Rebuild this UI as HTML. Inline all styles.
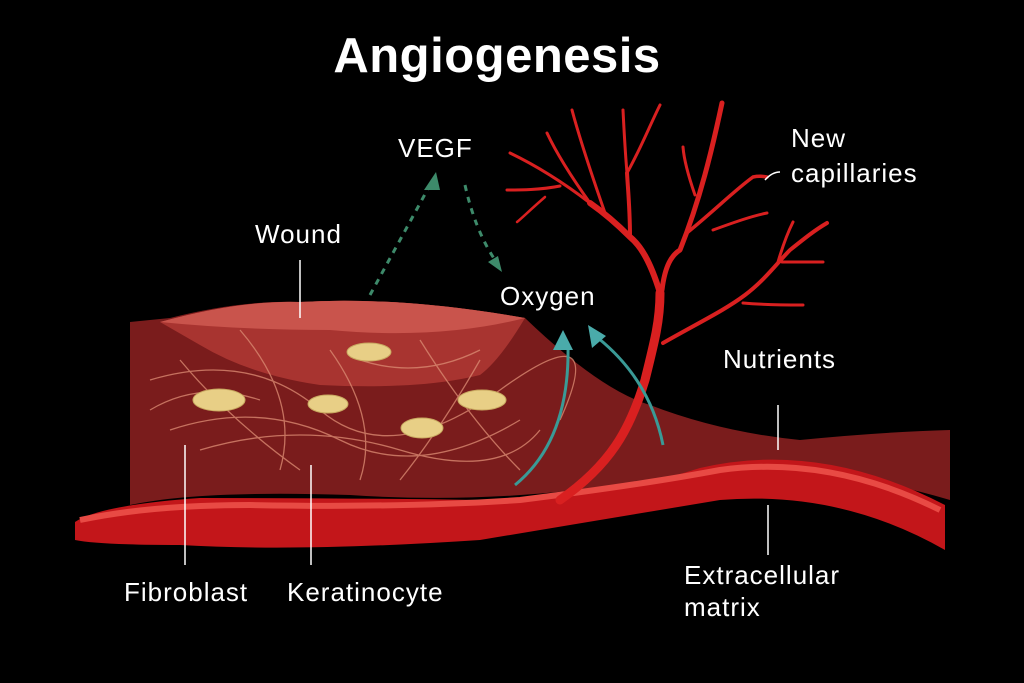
<!DOCTYPE html>
<html><head><meta charset="utf-8"><style>
html,body{margin:0;padding:0;background:#000;}
svg{display:block}
text{font-family:"Liberation Sans",sans-serif;fill:#fff}
</style></head><body>
<svg width="1024" height="683" viewBox="0 0 1024 683" xmlns="http://www.w3.org/2000/svg">
<rect width="1024" height="683" fill="#000"/>
<text x="497" y="72" font-size="49" text-anchor="middle" font-weight="bold" letter-spacing="0.5">Angiogenesis</text>
<path d="M130,322 L170,318 Q240,300 300,302 Q400,296 525,318 Q600,390 650,405 Q720,432 800,440 Q880,432 950,430 L950,500 Q800,455 650,480 Q500,505 350,495 Q200,490 130,505 Z" fill="#7a1c1c"/>
<path d="M160,322 Q240,300 300,302 Q400,296 525,318 Q500,360 480,375 Q420,390 320,385 Q250,375 200,345 Z" fill="#a83430"/>
<path d="M160,322 Q240,300 300,302 Q400,296 525,318 Q440,340 330,330 Q240,330 160,322Z" fill="#c9544c"/>
<g stroke="#d98870" stroke-width="1.3" fill="none" opacity="0.8">
<path d="M150,380 Q250,350 320,410 T500,390 T560,420"/>
<path d="M170,430 Q260,400 340,440 T520,420"/>
<path d="M180,360 Q230,420 300,470"/>
<path d="M240,330 Q300,400 280,470"/>
<path d="M330,350 Q380,420 360,480"/>
<path d="M420,340 Q470,420 520,470"/>
<path d="M480,360 Q440,430 400,480"/>
<path d="M200,450 Q300,420 400,450 T540,430"/>
<path d="M150,410 Q200,380 260,400"/>
<path d="M360,360 Q420,380 480,350"/>
</g>
<g fill="#e8cf86" stroke="#c8a860" stroke-width="1">
<ellipse cx="369" cy="352" rx="22" ry="9"/>
<ellipse cx="219" cy="400" rx="26" ry="11"/>
<ellipse cx="328" cy="404" rx="20" ry="9"/>
<ellipse cx="482" cy="400" rx="24" ry="10"/>
<ellipse cx="422" cy="428" rx="21" ry="10"/>
</g>
<path d="M75,522 Q100,505 200,498 Q350,498 480,500 Q600,500 700,468 Q820,440 945,505 L945,550 Q840,490 720,500 Q600,520 480,540 Q300,552 180,545 Q100,545 75,540 Z" fill="#c3161a"/>
<path d="M80,520 Q150,505 250,505 Q400,508 520,500 Q640,485 720,470 Q830,455 940,510" stroke="#e84a44" stroke-width="6" fill="none"/>
<g stroke="#d92020" fill="none" stroke-linecap="round" stroke-linejoin="round">
<path d="M560,500 C610,465 630,430 645,380 C655,340 660,320 660,293" stroke-width="9"/>
<path d="M660,293 C650,260 640,245 630,237 C615,222 600,210 590,203" stroke-width="6"/>
<path d="M590,203 C560,180 535,165 510,153" stroke-width="3"/>
<path d="M590,203 C570,175 555,150 547,133" stroke-width="3"/>
<path d="M630,237 C630,210 628,190 627,173" stroke-width="4"/>
<path d="M627,173 C625,150 624,130 623,110" stroke-width="3"/>
<path d="M627,173 C640,150 650,125 660,105" stroke-width="3"/>
<path d="M605,213 C590,170 580,140 572,110" stroke-width="3"/>
<path d="M560,186 C540,190 520,190 507,190" stroke-width="3"/>
<path d="M545,197 C530,210 522,218 517,222" stroke-width="2.5"/>
<path d="M662,290 C665,265 672,255 680,250 C700,200 712,150 722,103" stroke-width="5"/>
<path d="M695,195 C688,175 684,160 683,147" stroke-width="3"/>
<path d="M688,232 C715,210 735,190 753,177 C758,176 762,176 767,177" stroke-width="3.5"/>
<path d="M713,230 C735,222 752,216 767,213" stroke-width="3"/>
<path d="M663,343 C700,322 725,310 745,295 C765,280 778,262 790,250 C805,238 815,230 827,223" stroke-width="4"/>
<path d="M778,262 C783,245 788,232 793,222" stroke-width="3"/>
<path d="M782,262 C800,262 812,262 823,262" stroke-width="3"/>
<path d="M743,303 C765,305 785,305 803,305" stroke-width="3"/>
</g>
<g stroke="#3a9a96" stroke-width="3" fill="none">
<path d="M515,485 Q570,440 568,345"/>
<path d="M663,445 Q650,380 598,338"/>
</g>
<polygon points="563,330 553,350 573,350" fill="#4aabaa"/>
<polygon points="588,325 592,348 606,336" fill="#4aabaa"/>
<g stroke="#3d8a6a" stroke-width="3" fill="none" stroke-dasharray="6,6">
<path d="M370,295 Q400,240 430,185"/>
<path d="M465,185 Q475,230 495,260"/>
</g>
<polygon points="436,172 424,190 440,190" fill="#3d8a6a"/>
<polygon points="502,272 488,262 498,256" fill="#3d8a6a"/>
<g stroke="#fff" stroke-width="1.5">
<line x1="300" y1="260" x2="300" y2="318"/>
<line x1="185" y1="445" x2="185" y2="565"/>
<line x1="311" y1="465" x2="311" y2="565"/>
<line x1="778" y1="405" x2="778" y2="450"/>
<line x1="768" y1="505" x2="768" y2="555"/>
<path d="M765,180 Q772,172 780,172" fill="none"/>
</g>
<g font-size="26" letter-spacing="1">
<text x="255" y="243">Wound</text>
<text x="398" y="157">VEGF</text>
<text x="500" y="305">Oxygen</text>
<text x="791" y="147">New</text>
<text x="791" y="182">capillaries</text>
<text x="723" y="368">Nutrients</text>
<text x="124" y="601">Fibroblast</text>
<text x="287" y="601">Keratinocyte</text>
<text x="684" y="584">Extracellular</text>
<text x="684" y="616">matrix</text>
</g>
</svg>
</body></html>
